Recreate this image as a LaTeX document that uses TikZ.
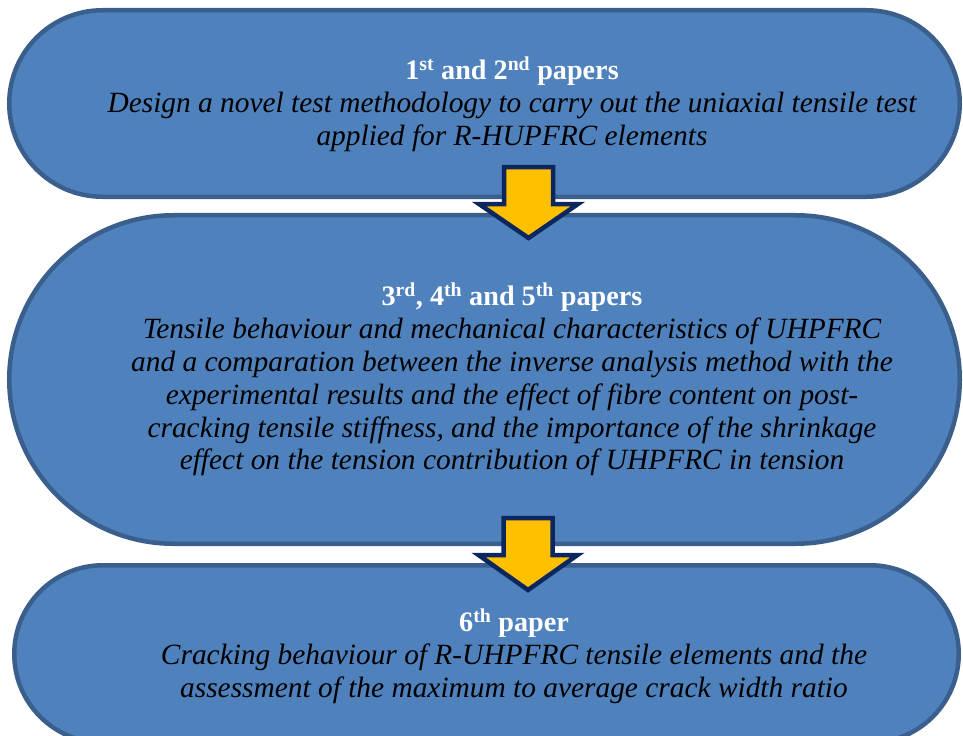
\documentclass[tikz,border=0pt]{standalone}
\usepackage{fontspec}
\setmainfont{Liberation Serif}
\usetikzlibrary{shapes.misc}
\definecolor{boxfill}{HTML}{4F81BD}
\definecolor{boxline}{HTML}{3A5F8C}
\definecolor{arrfill}{HTML}{FFC000}
\definecolor{arrline}{HTML}{0C2660}
\newcommand{\papertitle}[1]{{\fontsize{28.3}{33}\selectfont\upshape\bfseries\color{white}#1}}
\begin{document}
\begin{tikzpicture}[x=1bp,y=-1bp,
  stage/.style={rounded rectangle, draw=boxline, fill=boxfill, line width=4.5bp,
    inner sep=0pt, outer sep=0pt},
  stagetext/.style={inner sep=0pt, outer sep=0pt, align=center, text=black,
    font=\fontsize{29.5}{33}\selectfont\itshape},
  flowarrow/.style={draw=arrline, fill=arrfill, line width=4.5bp, line join=miter}]
\useasboundingbox (0,0) rectangle (963,736);
\clip (0,0) rectangle (963,736);
\node[stage, minimum width=950.5bp, minimum height=186.5bp] (s1) at (484.5,103.5) {};
\node[stage, minimum width=950.5bp, minimum height=328.5bp] (s2) at (484.5,379.5) {};
\node[stage, minimum width=944.5bp, minimum height=177.5bp] (s3) at (486.5,654) {};
\node[stagetext] (t1) at (512,104)
  {\papertitle{1\textsuperscript{st} and 2\textsuperscript{nd} papers}\\
   Design a novel test methodology to carry out the uniaxial tensile test\\
   applied for R-HUPFRC elements};
\node[stagetext] (t2) at (512,379.5)
  {\papertitle{3\textsuperscript{rd}, 4\textsuperscript{th} and 5\textsuperscript{th} papers}\\
   Tensile behaviour and mechanical characteristics of UHPFRC\\
   and a comparation between the inverse analysis method with the\\
   experimental results and the effect of fibre content on post-\\
   cracking tensile stiffness, and the importance of the shrinkage\\
   effect on the tension contribution of UHPFRC in tension};
\node[stagetext] (t3) at (514,656)
  {\papertitle{6\textsuperscript{th} paper}\\
   Cracking behaviour of R-UHPFRC tensile elements and the\\
   assessment of the maximum to average crack width ratio};
% block arrows
\coordinate (a1) at (528.5,167);
\coordinate (a2) at (528,518);
\draw[flowarrow] (a1) ++(-24.5,0) -- ++(49,0) -- ++(0,37) -- ++(25,0) -- ++(-49.5,34)
  -- ++(-49.5,-34) -- ++(25,0) -- cycle;
\draw[flowarrow] (a2) ++(-24.5,0) -- ++(49,0) -- ++(0,37) -- ++(25,0) -- ++(-49.5,35)
  -- ++(-49.5,-35) -- ++(25,0) -- cycle;
\end{tikzpicture}
\end{document}
